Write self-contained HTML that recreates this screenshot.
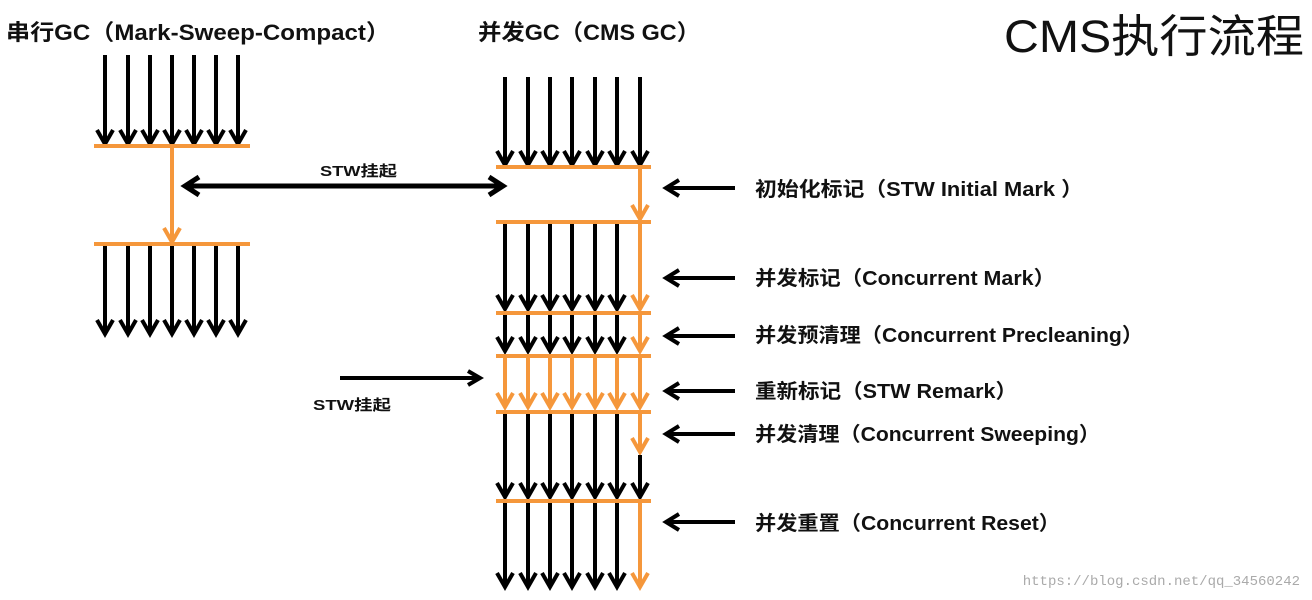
<!DOCTYPE html>
<html><head><meta charset="utf-8"><style>
body{margin:0;background:#fff;width:1312px;height:600px;overflow:hidden}
svg{display:block}
text{font-family:"Liberation Sans","Noto Sans CJK SC",sans-serif;fill:#111}
</style></head><body>
<svg id="s" width="1312" height="600" xmlns="http://www.w3.org/2000/svg">
<text x="6" y="40" font-size="22" font-weight="bold" textLength="384" lengthAdjust="spacingAndGlyphs">串行GC（Mark-Sweep-Compact）</text>
<text x="478" y="40" font-size="22" font-weight="bold" textLength="222" lengthAdjust="spacingAndGlyphs">并发GC（CMS GC）</text>
<text x="1004" y="52" font-size="45" textLength="300" lengthAdjust="spacingAndGlyphs">CMS执行流程</text>
<text x="320" y="176" font-size="15" font-weight="bold" textLength="77" lengthAdjust="spacingAndGlyphs">STW挂起</text>
<text x="313" y="410" font-size="15" font-weight="bold" textLength="78" lengthAdjust="spacingAndGlyphs">STW挂起</text>
<g font-size="20" font-weight="bold">
<text x="755" y="196" textLength="328" lengthAdjust="spacingAndGlyphs">初始化标记（STW Initial Mark ）</text>
<text x="755" y="285" textLength="300" lengthAdjust="spacingAndGlyphs">并发标记（Concurrent Mark）</text>
<text x="755" y="342" textLength="388" lengthAdjust="spacingAndGlyphs">并发预清理（Concurrent Precleaning）</text>
<text x="755" y="398" textLength="262" lengthAdjust="spacingAndGlyphs">重新标记（STW Remark）</text>
<text x="755" y="441" textLength="345" lengthAdjust="spacingAndGlyphs">并发清理（Concurrent Sweeping）</text>
<text x="755" y="530" textLength="305" lengthAdjust="spacingAndGlyphs">并发重置（Concurrent Reset）</text>
</g>
<text x="1300" y="585" font-size="14" text-anchor="end" style="font-family:'Liberation Mono',monospace;fill:#aaa">https://blog.csdn.net/qq_34560242</text>
<g id="g" fill="none" stroke-width="4"></g>
</svg>
<script>
var g=document.getElementById('g'),o='',B='#000',O='#f5973b';
function down(x,a,b,c){o+='<line x1="'+x+'" y1="'+a+'" x2="'+x+'" y2="'+(b-2)+'" stroke="'+c+'"/><polyline points="'+(x-8)+','+(b-14)+' '+x+','+b+' '+(x+8)+','+(b-14)+'" stroke="'+c+'"/>';}
function left(x1,x2,y){o+='<line x1="'+x1+'" y1="'+y+'" x2="'+x2+'" y2="'+y+'" stroke="#000"/><polyline points="'+(x1+13)+','+(y-8)+' '+x1+','+y+' '+(x1+13)+','+(y+8)+'" stroke="#000"/>';}
function right(x1,x2,y){o+='<line x1="'+x1+'" y1="'+y+'" x2="'+x2+'" y2="'+y+'" stroke="#000"/><polyline points="'+(x2-12)+','+(y-7)+' '+x2+','+y+' '+(x2-12)+','+(y+7)+'" stroke="#000"/>';}
function hl(x1,x2,y){o+='<line x1="'+x1+'" y1="'+y+'" x2="'+x2+'" y2="'+y+'" stroke="'+O+'"/>';}
var L=[105,128,150,172,194,216,238],R=[505,528,550,572,595,617,640];
L.forEach(function(x){down(x,55,144,B);down(x,246,334,B);});
down(172,147,242,O);hl(94,250,146);hl(94,250,244);
R.forEach(function(x,i){down(x,77,165,B);
 if(i<6){down(x,224,309,B);down(x,315,351,B);down(x,414,497,B);down(x,502,587,B);}
 down(x,357,407,O);});
down(640,168,219,O);down(640,224,309,O);down(640,315,351,O);down(640,414,452,O);
o+='<line x1="640" y1="455" x2="640" y2="495" stroke="#000"/><polyline points="632,483 640,497 648,483" stroke="#000"/>';
down(640,502,587,O);
[167,222,313,356,412,501].forEach(function(y){hl(496,651,y);});
right(340,480,378);
o+='<line x1="186" y1="186" x2="502" y2="186" stroke="#000" stroke-width="5"/><polyline points="199,177 185,186 199,195" stroke="#000" stroke-width="5"/><polyline points="489,177 503,186 489,195" stroke="#000" stroke-width="5"/>';
[188,278,336,391,434,522].forEach(function(y){left(666,735,y);});
g.innerHTML=o;
</script>
</body></html>
